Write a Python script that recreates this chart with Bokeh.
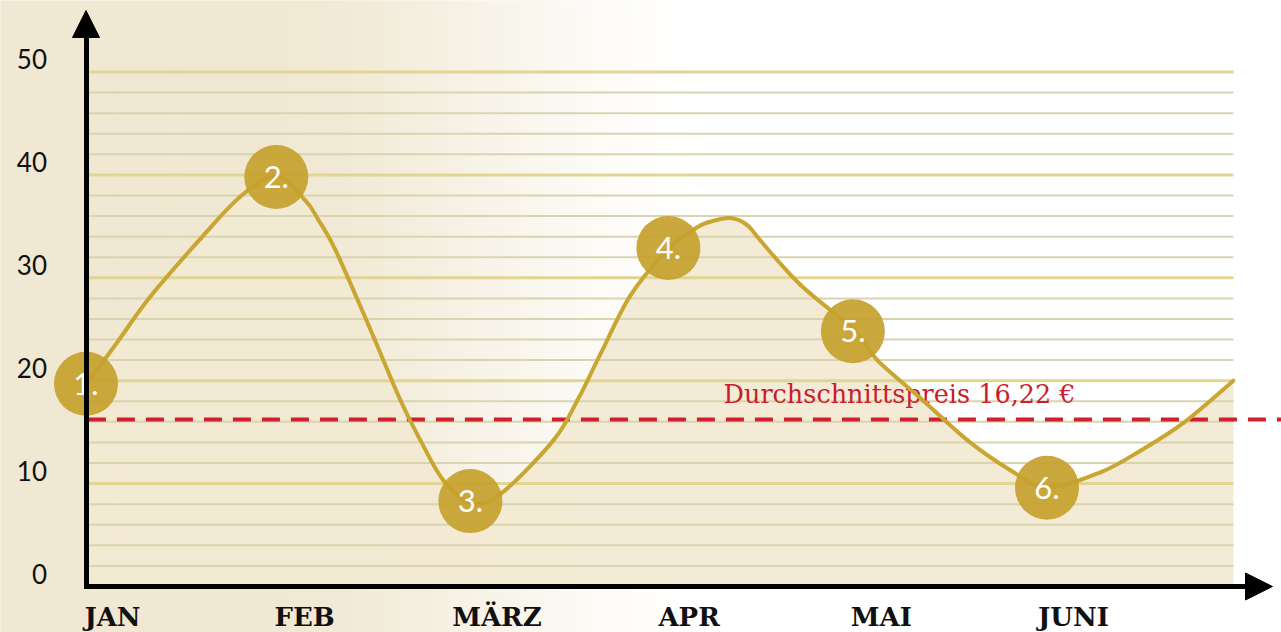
import numpy as np
from bokeh.plotting import figure
from bokeh.models import FixedTicker, Arrow, NormalHead, Range1d
from bokeh.core.properties import value
from bokeh.embed import file_html
from bokeh.resources import INLINE

# ---------------- data ----------------
months = ["JAN", "FEB", "MÄRZ", "APR", "MAI", "JUNI"]
month_pos = [0, 1, 2, 3, 4, 5]
y_ticks = [0, 10, 20, 30, 40, 50]
y_tick_labels = ["0", "10", "20", "30", "40", "50"]

point_labels = ["1.", "2.", "3.", "4.", "5.", "6."]
point_x = [0.0, 0.99, 2.0, 3.03, 3.99, 5.0]
point_y = [19.7, 39.8, 8.3, 32.9, 24.8, 9.6]

# price curve
curve_x = [0.013, 0.169, 0.336, 0.596, 0.804, 0.991, 1.142, 1.210, 1.298, 1.470,
           1.636, 1.740, 1.860, 2.000, 2.157, 2.432, 2.557, 2.677, 2.833, 3.031,
           3.171, 3.239, 3.353, 3.442, 3.510, 3.718, 4.004, 4.117, 4.342, 4.587,
           4.810, 4.998, 5.278, 5.486, 5.710, 5.970]
curve_y = [19.9, 23.9, 28.2, 33.8, 37.9, 39.9, 37.5, 35.6, 32.7, 25.4,
           18.1, 14.2, 10.3, 8.1, 9.0, 14.2, 18.1, 22.6, 28.3, 32.8,
           34.8, 35.4, 35.8, 35.1, 33.6, 29.3, 24.8, 22.0, 18.3, 14.2,
           11.3, 9.6, 11.1, 13.2, 15.9, 20.0]

avg_price = 16.22
avg_label = "Durchschnittspreis 16,22 €"

# ---------------- layout ----------------
W, H = 1281, 632
PX_X, X0 = 192.2, 85.5      # pixels per month, canvas x of month 0
PX_Y, Y0 = 10.29, 586.0     # pixels per unit, canvas y of value 0
x_range = Range1d(-X0 / PX_X, (W - X0) / PX_X)
y_range = Range1d(-(H - Y0) / PX_Y, Y0 / PX_Y)

p = figure(width=W, height=H, x_range=x_range, y_range=y_range,
           output_backend="svg", toolbar_location=None, min_border=0)
p.outline_line_color = None
p.grid.visible = False
p.background_fill_color = "white"
p.border_fill_color = "white"

# background gradient (beige on the left, white on the right)
beige = np.array([240, 232, 210])
white = np.array([255, 255, 255])
n = 160
edges = np.linspace(x_range.start, x_range.end, n + 1)
centers = (edges[:-1] + edges[1:]) / 2
ref_px = (centers - x_range.start) * PX_X
t = np.clip((ref_px - 250) / (730 - 250), 0, 1)
t = t * t * (3 - 2 * t)
cols = ["#%02x%02x%02x" % tuple(int(round(c)) for c in beige * (1 - tt) + white * tt) for tt in t]
p.quad(left=edges[:-1], right=edges[1:], bottom=y_range.start, top=y_range.end,
       fill_color=cols, line_color=cols, line_width=1)

# area under the curve
p.varea(x=curve_x, y1=0, y2=curve_y, fill_color="#f3e9d3", fill_alpha=0.92)

# horizontal rules every 2 units
grid_vals = list(range(2, 51, 2))
minor = [g for g in grid_vals if g % 10]
major = [g for g in grid_vals if g % 10 == 0]
p.segment(x0=0, x1=curve_x[-1], y0=minor, y1=minor, line_color="#d9d4b0", line_width=2)
p.segment(x0=0, x1=curve_x[-1], y0=major, y1=major, line_color="#e0d593", line_width=3)

# average line
p.segment(x0=[0.01], x1=[x_range.end], y0=[avg_price], y1=[avg_price],
          line_color="#d01f2e", line_width=4, line_dash="18 11")
p.text(x=[3.317], y=[avg_price], text=[avg_label], y_offset=-26,
       text_font=value("DejaVu Serif"), text_font_size="25.5px",
       text_color="#c81e2d", text_baseline="middle", text_align="left")

# smooth curve through the traced points (cubic Bezier pieces)
cx = np.array(curve_x)
cy = np.array(curve_y)
px_ = np.concatenate([[cx[0]], cx, [cx[-1]]])
py_ = np.concatenate([[cy[0]], cy, [cy[-1]]])
k = len(cx) - 1
c0x = px_[1:k + 1] + (px_[2:k + 2] - px_[0:k]) / 6
c0y = py_[1:k + 1] + (py_[2:k + 2] - py_[0:k]) / 6
c1x = px_[2:k + 2] - (px_[3:k + 3] - px_[1:k + 1]) / 6
c1y = py_[2:k + 2] - (py_[3:k + 3] - py_[1:k + 1]) / 6
p.bezier(x0=cx[:-1], y0=cy[:-1], x1=cx[1:], y1=cy[1:],
         cx0=c0x, cy0=c0y, cx1=c1x, cy1=c1y,
         line_color="#c9a632", line_width=4, line_cap="round")

# numbered circles
p.scatter(point_x, point_y, size=64, fill_color="#c5a12c", fill_alpha=0.92, line_color=None)
p.text(point_x, point_y, text=point_labels, text_align="center", text_baseline="middle",
       text_font=value("Lato"), text_font_size="31px", text_color="white")

# axes (lines only; labels placed like the reference)
for ax in (p.xaxis[0], p.yaxis[0]):
    ax.fixed_location = 0
    ax.ticker = FixedTicker(ticks=[])
    ax.axis_line_width = 5
    ax.axis_line_color = "black"
    ax.axis_line_cap = "square"
    ax.major_tick_line_color = None
    ax.minor_tick_line_color = None
    ax.major_tick_in = 0
    ax.major_tick_out = 0
    ax.minor_tick_in = 0
    ax.minor_tick_out = 0
p.yaxis[0].bounds = (0, 54)
p.xaxis[0].bounds = (0, 6.05)

# tick labels
p.text(x=0, y=y_ticks, text=y_tick_labels, x_offset=-39, y_offset=-13,
       text_align="right", text_baseline="middle",
       text_font=value("Lato"), text_font_size="26px", text_color="#111111")
p.text(x=month_pos, y=0, text=months, x_offset=26.5, y_offset=30,
       text_align="center", text_baseline="middle",
       text_font=value("DejaVu Serif"), text_font_style="bold",
       text_font_size="26px", text_color="#111111")

# arrow heads
y_tip = (Y0 - 10) / PX_Y
x_tip = (1272 - X0) / PX_X
p.add_layout(Arrow(end=NormalHead(size=27, fill_color="black", line_color="black"),
                   x_start=0, y_start=53.8, x_end=0, y_end=y_tip,
                   line_width=5, line_color="black"))
p.add_layout(Arrow(end=NormalHead(size=27, fill_color="black", line_color="black"),
                   x_start=6.0, y_start=0, x_end=x_tip, y_end=0,
                   line_width=5, line_color="black"))

open("out.html", "w").write(file_html(p, INLINE))
